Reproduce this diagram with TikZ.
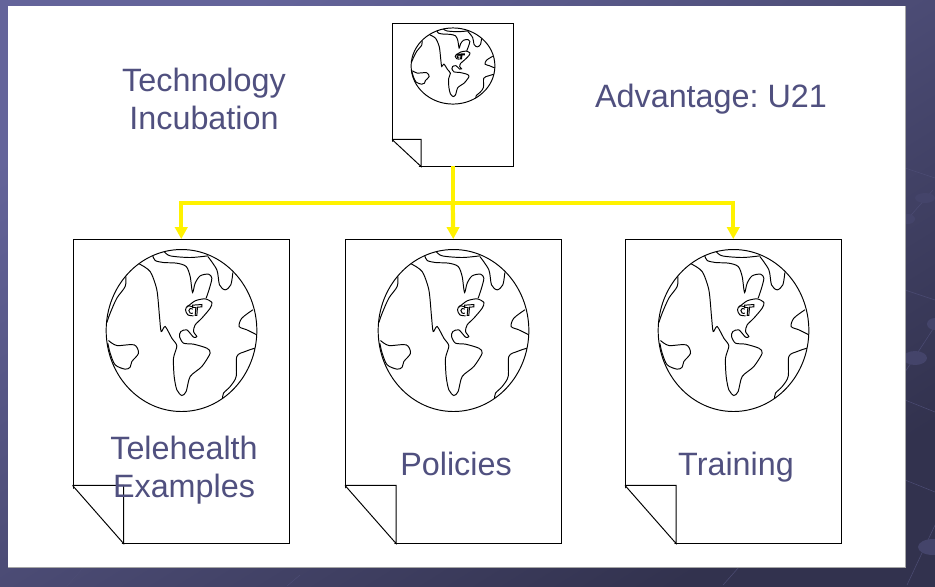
\documentclass[tikz,border=0pt]{standalone}
\usepackage{fontspec}
\setmainfont{Liberation Sans}
\usetikzlibrary{arrows.meta}

\definecolor{slidetext}{HTML}{50507F}
\definecolor{slidelight}{HTML}{64649A}
\definecolor{slidedark}{HTML}{32324E}
\definecolor{bgdecor}{HTML}{4C4C74}
\definecolor{bgspot}{HTML}{44446A}

\tikzset{
  sheet/.style={draw,fill=white,inner sep=0pt,line width=0.55pt},
  caption/.style={text=slidetext,align=center,font=\fontsize{18.4}{21.6}\selectfont\frenchspacing},
  feed/.style={draw=yellow,line width=2.4pt},
  feed tip/.style={feed,-{Triangle[width=7pt,length=6.8pt]}},
  coast/.style={line width=0.55pt},
  decor/.style={draw=bgdecor,line width=0.3pt},
  spot/.style={fill=bgspot},
  globe/.pic={
    \begin{scope}[scale=1/3,shift={(-364,-302)}]
      \draw[coast] (364,302) ellipse [x radius=226,y radius=243];
      % ice cap
      \draw[coast] plot[smooth] coordinates {(312,65) (330,78) (390,83) (443,78)};
      % north coast
      \draw[coast] plot[smooth] coordinates {(278,78) (285,92) (310,98) (350,100) (378,110) (390,140) (397,188) (405,160) (420,138) (445,133) (455,145) (448,175) (438,205)};
      % the americas
      \draw[coast] plot[smooth,tension=.45] coordinates {(380,232) (405,213) (435,207) (455,218) (450,235) (425,265) (405,285) (400,305) (410,320) (400,322) (380,300) (362,305) (358,320) (370,340) (400,343) (440,355) (450,370) (425,410) (390,440) (378,485) (365,497) (350,480) (342,440) (340,385) (350,348) (335,325) (315,290) (303,305) (298,260) (290,180) (270,125) (237,102)};
      % small mark
      \draw[coast] plot[smooth] coordinates {(400,232) (383,228) (376,240) (383,255) (400,258)};
      \draw[coast] plot[smooth] coordinates {(398,238) (390,236) (386,242) (390,250) (398,250)};
      \draw[coast] (397,226) -- (425,224) -- (425,231) -- (412,232) -- (410,257) -- (405,257) -- (407,233) -- (397,233) -- cycle;
      % old world
      \draw[coast] plot[smooth] coordinates {(443,80) (470,120) (478,165) (495,180) (512,165) (518,128)};
      \draw[coast] plot[smooth] coordinates {(578,240) (545,265) (537,290) (560,300) (590,315)};
      \draw[coast] plot[smooth] coordinates {(584,355) (555,365) (530,380) (528,440) (510,470) (490,490) (487,507)};
      \draw[coast] plot[smooth] coordinates {(197,140) (195,170) (170,205) (150,250) (140,278)};
      \draw[coast] plot[smooth] coordinates {(145,332) (170,347) (222,345) (235,370) (215,395) (210,412) (195,418) (165,405) (150,370) (143,340)};
    \end{scope}
  }
}

% #1 sheet name, #2 fold width, #3 fold height
\newcommand{\sheetfold}[3]{
  \fill[white] ([shift={(-2,2)}]#1.south west) -- ([shift={(-2,-#3)}]#1.south west) -- ([shift={(#2,2)}]#1.south west) -- cycle;
  \draw[line width=0.55pt] ([shift={(0,-#3)}]#1.south west) -- ([shift={(#2,0)}]#1.south west)
    -- ([shift={(#2,-#3)}]#1.south west) -- ([shift={(0,-#3)}]#1.south west);
}

\begin{document}
\begin{tikzpicture}[x=0.02cm,y=-0.02cm]
  \useasboundingbox (0,0) rectangle (935,586);

  % slide background
  \shade[top color=slidelight,bottom color=slidedark,shading angle=32] (0,0) rectangle (935,586);
  \draw[decor] (905,168) -- (935,178) (905,290) -- (935,300) (905,400) -- (935,412) (905,480) -- (935,492);
  \draw[decor] (933,190) -- (905,222) (935,326) -- (905,372) (935,525) -- (907,585);
  \draw[decor] (739,567) -- (723,585) (83,568) -- (67,586) (300,575) -- (287,586);
  \fill[spot] (925,198) ellipse [x radius=10,y radius=5];
  \fill[spot] (908,219) ellipse [x radius=7,y radius=5];
  \fill[spot] (915,358) ellipse [x radius=12,y radius=7];
  \fill[spot] (935,324) ellipse [x radius=8,y radius=6];
  \fill[spot] (933,547) ellipse [x radius=15,y radius=8];
  \fill[white] (8,6) rectangle (905,567);
  \draw[draw=gray!70,line width=0.4pt] (8,567) -- (905,567) -- (905,6);

  % sheets
  \node[sheet,minimum width=2.41cm,minimum height=2.86cm] (techdoc) at (452.75,94.5) {};
  \node[sheet,minimum width=4.33cm,minimum height=6.07cm] (telehealth) at (181.25,391.25) {};
  \node[sheet,minimum width=4.31cm,minimum height=6.07cm] (policies) at (453.25,391.25) {};
  \node[sheet,minimum width=4.31cm,minimum height=6.07cm] (training) at (733.25,391.25) {};
  \sheetfold{techdoc}{29}{27}
  \sheetfold{telehealth}{51}{58}
  \sheetfold{policies}{51}{58}
  \sheetfold{training}{51}{58}

  % globes
  \pic[xscale=0.556,yscale=0.47] at (453,66) {globe};
  \pic at (181.5,330.5) {globe};
  \pic at (453.5,330.5) {globe};
  \pic at (733.5,330.5) {globe};

  % connectors
  \coordinate (hub) at (452.75,203);
  \draw[feed] (techdoc.south) -- (hub);
  \draw[feed tip] (hub) -| (telehealth.north);
  \draw[feed tip] (hub) -- (policies.north);
  \draw[feed tip] (hub) -| (training.north);

  % captions
  \node[caption] (techlabel) at (204,99) {Technology\\Incubation};
  \node[caption] (advlabel) at (711,99) {Advantage: U21};
  \node[caption] (telelabel) at (184,470) {Telehealth\\Examples};
  \node[caption] (pollabel) at (456,464) {Policies};
  \node[caption] (trainlabel) at (736,467) {Training};
\end{tikzpicture}
\end{document}
